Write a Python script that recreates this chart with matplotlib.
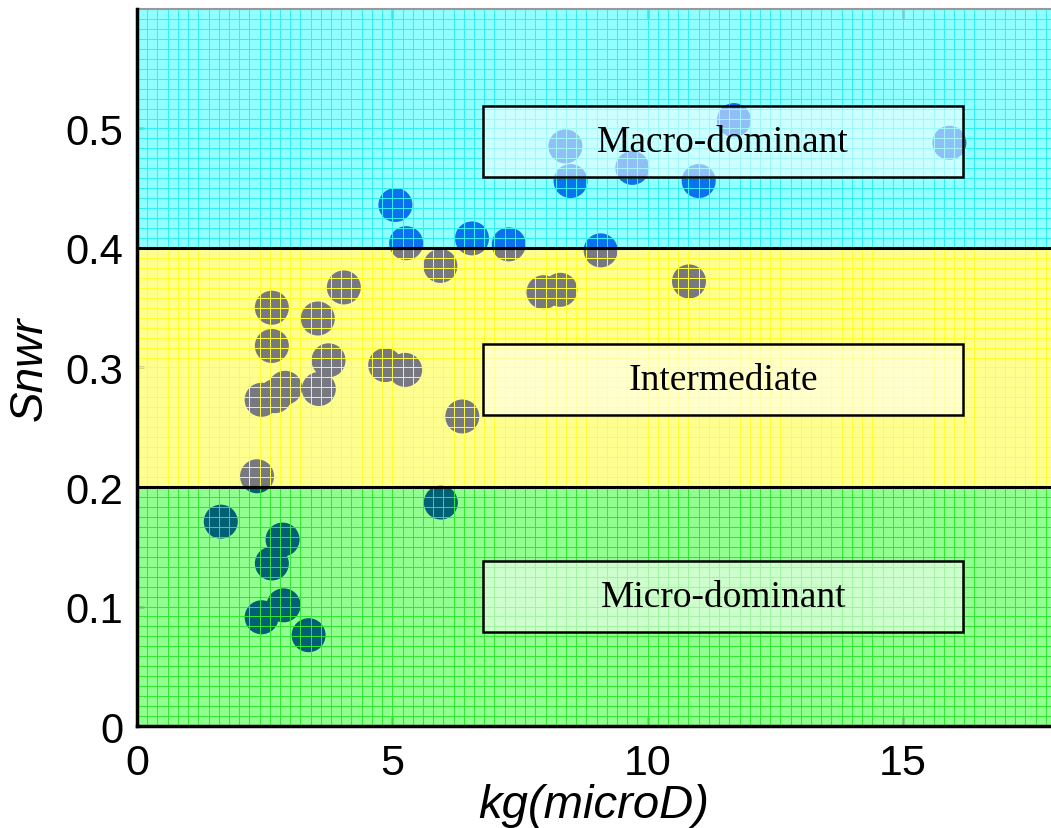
import numpy as np
import matplotlib
matplotlib.use("Agg")
import matplotlib.pyplot as plt
from matplotlib.patches import Rectangle

# data
kg = [5.06, 5.27, 6.56, 7.28, 8.39, 8.49, 9.70, 11.0, 11.69, 15.91, 9.08,
      4.05, 2.64, 3.54, 2.64, 3.75, 4.86, 5.25, 3.56, 2.90, 2.70, 2.44,
      6.37, 2.35, 5.94, 7.96, 8.29, 10.81,
      1.64, 2.85, 2.64, 2.87, 2.44, 3.36, 5.95]
snwr = [0.436, 0.404, 0.408, 0.403, 0.485, 0.456, 0.467, 0.456, 0.507, 0.488, 0.398,
        0.367, 0.350, 0.341, 0.318, 0.306, 0.302, 0.298, 0.282, 0.283, 0.276, 0.273,
        0.259, 0.209, 0.385, 0.363, 0.365, 0.372,
        0.171, 0.156, 0.136, 0.101, 0.091, 0.076, 0.187]

band_lo = [0.0, 0.2, 0.4]
band_hi = [0.2, 0.4, 0.6]
band_names = ['Micro-dominant', 'Intermediate', 'Macro-dominant']
band_bg = ['#90ff90', '#ffff90', '#90ffff']
band_grid = ['#30e830', '#ffff30', '#30f0f0']
band_marker = ['#006074', '#777880', '#0a72ee']

box_x0, box_x1 = 6.78, 16.18
box_y0 = [0.0785, 0.260, 0.4595]
box_h = 0.0595

xmax, ymax = 17.9, 0.6

fig = plt.figure(figsize=(10.51, 8.29), dpi=100)
ax = fig.add_axes([0.1304, 0.123, 0.8696, 0.865])
ax.set_xlim(0, xmax)
ax.set_ylim(0, ymax)

for lo, hi, bg, gc, mc in zip(band_lo, band_hi, band_bg, band_grid, band_marker):
    span = ax.axhspan(lo, hi, facecolor=bg, edgecolor='none', zorder=0)
    # same points, coloured by whichever band they sit in
    sc = ax.scatter(kg, snwr, s=600, color=mc, edgecolors='none', zorder=1)
    sc.set_clip_path(span)
    ax.vlines(np.arange(0.2, xmax, 0.2), lo, hi, color=gc, lw=0.7, zorder=2)
    ax.hlines(np.arange(lo + 0.6 / 72, hi, 0.6 / 72), 0, xmax, color=gc, lw=0.7, zorder=2)

for y in [0.2, 0.4]:
    ax.axhline(y, color='k', lw=2.2, zorder=4)

for y0, name in zip(box_y0, band_names):
    ax.add_patch(Rectangle((box_x0, y0), box_x1 - box_x0, box_h,
                           facecolor=(1, 1, 1, 0.55), edgecolor='k', lw=1.8, zorder=5))
    ax.text((box_x0 + box_x1) / 2, y0 + box_h / 2, name, ha='center', va='center',
            fontsize=27, family='Liberation Serif', zorder=6)

ax.set_xticks([0, 5, 10, 15])
ax.set_xticklabels(['0', '5', '10', '15'], fontsize=31, family='Liberation Sans')
ax.set_yticks([0, 0.1, 0.2, 0.3, 0.4, 0.5])
ax.set_yticklabels(['0', '0.1', '0.2', '0.3', '0.4', '0.5'], fontsize=30, family='Liberation Sans')
ax.tick_params(axis='x', direction='in', length=7, width=1, top=True, pad=12, color='#333333')
ax.tick_params(axis='y', direction='in', length=5, width=1, pad=10, color='#333333')

ax.set_xlabel('kg(microD)', fontsize=34, style='italic', family='Liberation Sans', labelpad=0)
ax.set_ylabel('Snwr', fontsize=33, style='italic', family='Liberation Sans', labelpad=10)

for side in ['left', 'bottom']:
    ax.spines[side].set_linewidth(2.5)
    ax.spines[side].set_zorder(7)
ax.spines['top'].set_color('#999999')
ax.spines['top'].set_linewidth(1.5)
ax.spines['right'].set_visible(False)

fig.savefig('out.png', dpi=100)
